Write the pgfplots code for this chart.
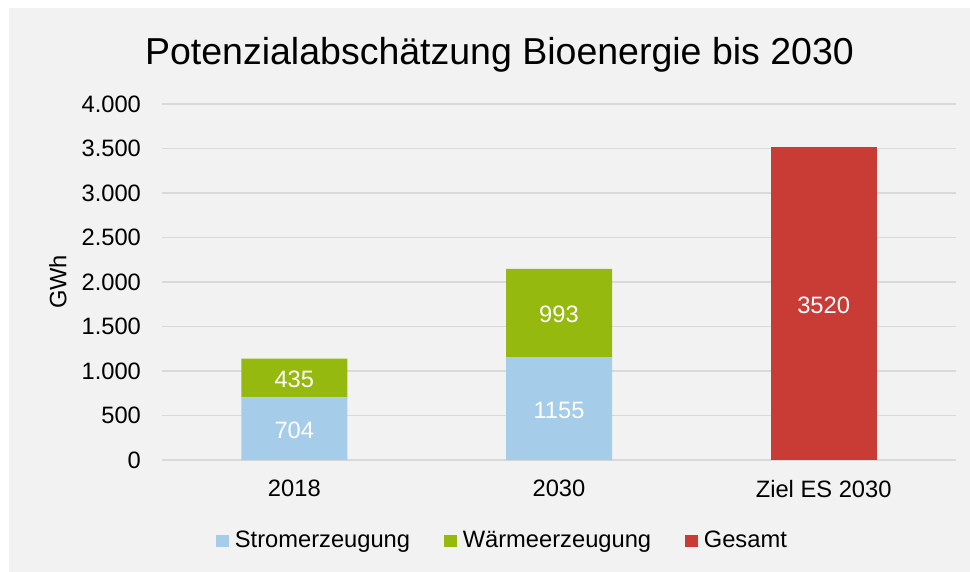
\documentclass[border=0pt]{standalone}
\usepackage{pgfplots}
\pgfplotsset{compat=1.18}
\usepackage{fontspec}
\setmainfont{Liberation Sans}
\definecolor{bgGray}{HTML}{F2F2F2}
\definecolor{gridGray}{HTML}{D9D9D9}
\definecolor{cStrom}{HTML}{A5CCE9}
\definecolor{cWaerme}{HTML}{95B90F}
\definecolor{cGesamt}{HTML}{C83C35}
\begin{document}
\fontsize{23.7bp}{28bp}\selectfont
\begin{tikzpicture}
\path[use as bounding box, fill=white] (0bp,0bp) rectangle (970bp,-572bp);
\fill[bgGray] (9bp,-8bp) rectangle (970bp,-572bp);
\begin{axis}[
  at={(162bp,-460bp)}, anchor=south west,
  scale only axis, width=794bp, height=356bp,
  xmin=-0.5, xmax=2.5, ymin=0, ymax=4000,
  ybar stacked, bar width=106bp,
  axis line style={draw=none},
  major tick length=0pt,
  ymajorgrids, grid style={draw=gridGray, line width=1.5bp},
  xtick={0,1,2}, xticklabels={2018,2030,Ziel ES 2030},
  ytick={0,500,...,4000},
  /pgf/number format/.cd, use comma, 1000 sep={.}, assume math mode=true,
  /pgfplots/.cd,
  tick label style={font=\fontsize{23.7bp}{28bp}\selectfont, text=black},
  xticklabel style={yshift=-12bp},
  yticklabel style={xshift=-13bp},
  ylabel={GWh},
  every axis y label/.style={at={([xshift=-104bp]axis description cs:0,0.5)}, rotate=90, anchor=center, font=\fontsize{23.7bp}{28bp}\selectfont},
  title={Potenzialabsch\"atzung Bioenergie bis 2030},
  every axis title/.style={at={(axis description cs:0.5,1)}, anchor=base, yshift=40bp, xshift=-59.5bp, font=\fontsize{37.5bp}{42bp}\selectfont},
  point meta=explicit symbolic,
  nodes near coords={\ifnum\pgfplotspointmeta=0 \else\pgfplotspointmeta\fi},
  every node near coord/.append style={anchor=center, yshift=-1.5bp, text=white, font=\fontsize{23.7bp}{28bp}\selectfont},
  legend columns=3,
  legend style={at={(axis description cs:0.068,-0.2275)}, anchor=west, draw=none, fill=none, inner sep=0pt,
    font=\fontsize{23.7bp}{28bp}\selectfont,
    nodes={inner sep=0pt},
    /tikz/every odd column/.style={column sep=6bp},
    /tikz/every even column/.style={column sep=34bp}},
  legend image code/.code={\fill[#1] (0bp,-6.3bp) rectangle (12.7bp,6.3bp);},
]
\addplot[fill=cStrom, draw=none] coordinates {(0,704) [704] (1,1155) [1155] (2,0) [0]};
\addplot[fill=cWaerme, draw=none] coordinates {(0,435) [435] (1,993) [993] (2,0) [0]};
\addplot[fill=cGesamt, draw=none] coordinates {(0,0) [0] (1,0) [0] (2,3520) [3520]};
\legend{Stromerzeugung, W\"armeerzeugung, Gesamt}
\end{axis}
\end{tikzpicture}
\end{document}
